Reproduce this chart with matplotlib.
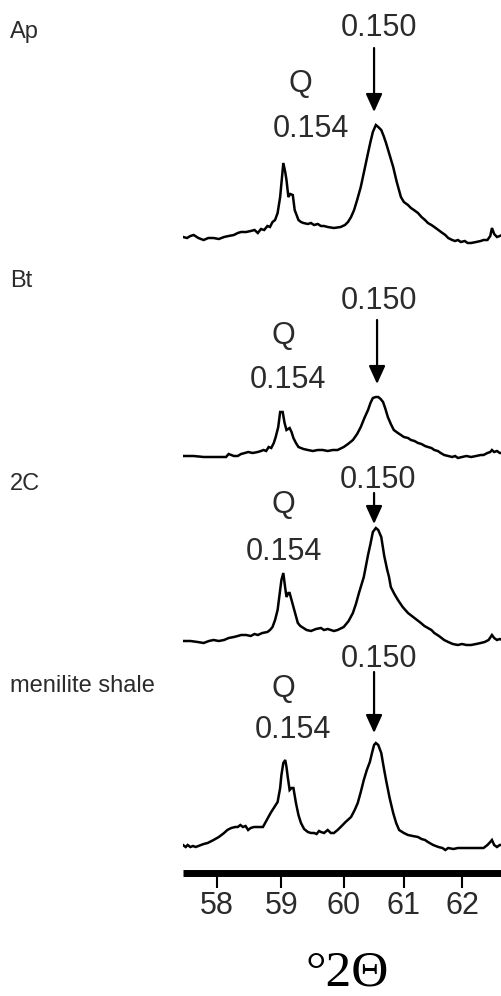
import numpy as np
import matplotlib
matplotlib.use('Agg')
import matplotlib.pyplot as plt

# XRD traces: 2-theta (deg) and intensity (arb. units)
ap_2theta = [57.49, 57.55, 57.60, 57.65, 57.72, 57.80, 57.87, 57.95, 58.03, 58.11, 58.18, 58.26, 58.32,
             58.37, 58.45, 58.52, 58.58, 58.63, 58.68, 58.73, 58.78, 58.82, 58.86, 58.90, 58.94, 58.98,
             59.03, 59.06, 59.08, 59.11, 59.14, 59.18, 59.21, 59.27, 59.31, 59.35, 59.42, 59.47, 59.52,
             59.58, 59.63, 59.68, 59.74, 59.84, 59.95, 60.02, 60.07, 60.12, 60.17, 60.22, 60.28, 60.34,
             60.40, 60.44, 60.48, 60.53, 60.57, 60.62, 60.66, 60.70, 60.76, 60.82, 60.88, 60.95, 61.00,
             61.07, 61.12, 61.17, 61.24, 61.30, 61.36, 61.41, 61.47, 61.52, 61.59, 61.66, 61.71, 61.76,
             61.83, 61.88, 61.93, 61.98, 62.05, 62.10, 62.16, 62.25, 62.33, 62.38, 62.45, 62.50, 62.53,
             62.57, 62.62, 62.67, 62.71]
ap_int = [13, 12, 14, 15, 12, 10, 12, 12, 11, 13, 14, 15, 17,
          18, 18, 19, 20, 17, 21, 20, 24, 23, 28, 30, 37, 53,
          87, 78, 70, 53, 56, 55, 40, 30, 28, 27, 26, 27, 25,
          26, 24, 24, 23, 22, 23, 25, 28, 33, 40, 50, 63, 80,
          97, 108, 118, 125, 123, 120, 114, 107, 95, 83, 68, 53, 48,
          45, 42, 40, 37, 33, 30, 27, 25, 23, 20, 17, 15, 12,
          10, 9, 10, 8, 9, 7, 7, 8, 9, 10, 10, 14, 22,
          16, 13, 14, 15]

bt_2theta = [57.49, 57.65, 57.80, 57.95, 58.14, 58.18, 58.22, 58.26, 58.32, 58.37, 58.43, 58.48, 58.55,
             58.63, 58.68, 58.72, 58.76, 58.80, 58.84, 58.88, 58.91, 58.95, 58.98, 59.02, 59.05, 59.08,
             59.13, 59.16, 59.19, 59.23, 59.27, 59.35, 59.42, 59.50, 59.58, 59.66, 59.74, 59.82, 59.90,
             60.00, 60.07, 60.15, 60.22, 60.28, 60.34, 60.40, 60.44, 60.48, 60.53, 60.57, 60.61, 60.65,
             60.69, 60.73, 60.78, 60.83, 60.90, 61.00, 61.07, 61.12, 61.18, 61.24, 61.30, 61.36, 61.41,
             61.47, 61.52, 61.58, 61.63, 61.69, 61.76, 61.83, 61.88, 61.93, 62.00, 62.08, 62.16, 62.25,
             62.33, 62.38, 62.45, 62.50, 62.53, 62.57, 62.62, 62.67, 62.71]
bt_int = [9, 9, 8, 8, 8, 11, 10, 9, 9, 11, 12, 13, 12,
          13, 14, 15, 14, 18, 17, 22, 28, 38, 53, 53, 42, 35,
          37, 33, 27, 22, 18, 16, 15, 14, 15, 15, 14, 15, 15,
          18, 21, 25, 31, 38, 47, 55, 62, 67, 68, 68, 66, 63,
          56, 48, 41, 35, 32, 28, 27, 25, 24, 22, 21, 19, 18,
          17, 15, 14, 12, 10, 9, 8, 9, 7, 8, 9, 8, 9,
          10, 10, 12, 13, 15, 13, 14, 12, 12]

c2_2theta = [57.49, 57.60, 57.71, 57.80, 57.88, 57.95, 58.03, 58.11, 58.18, 58.26, 58.32, 58.37, 58.45,
             58.52, 58.58, 58.63, 58.70, 58.78, 58.82, 58.86, 58.90, 58.94, 58.97, 59.00, 59.03, 59.06,
             59.08, 59.11, 59.13, 59.16, 59.19, 59.26, 59.30, 59.35, 59.40, 59.47, 59.55, 59.63, 59.68,
             59.74, 59.79, 59.84, 59.90, 60.00, 60.08, 60.15, 60.20, 60.25, 60.33, 60.40, 60.44, 60.48,
             60.53, 60.57, 60.62, 60.67, 60.72, 60.75, 60.78, 60.84, 60.90, 60.98, 61.07, 61.18, 61.29,
             61.35, 61.41, 61.47, 61.52, 61.60, 61.69, 61.76, 61.84, 61.93, 62.00, 62.08, 62.16, 62.25,
             62.33, 62.40, 62.47, 62.53, 62.57, 62.62, 62.67, 62.71]
c2_int = [9, 9, 8, 7, 9, 10, 9, 10, 12, 13, 14, 15, 15,
          14, 16, 15, 17, 18, 20, 23, 30, 40, 55, 70, 77, 62,
          53, 57, 57, 50, 43, 27, 24, 22, 20, 19, 21, 22, 20,
          21, 20, 19, 20, 23, 29, 37, 46, 57, 73, 95, 106, 118,
          122, 120, 113, 94, 80, 73, 63, 56, 50, 43, 37, 32, 27,
          24, 22, 20, 17, 14, 10, 8, 6, 5, 6, 5, 5, 6,
          7, 8, 10, 15, 12, 10, 11, 10]

ms_2theta = [57.49, 57.53, 57.56, 57.60, 57.64, 57.68, 57.72, 57.80, 57.86, 57.95, 58.03, 58.11, 58.16,
             58.22, 58.28, 58.32, 58.36, 58.40, 58.44, 58.48, 58.52, 58.57, 58.64, 58.71, 58.77, 58.83,
             58.89, 58.94, 58.98, 59.00, 59.03, 59.06, 59.08, 59.10, 59.13, 59.16, 59.19, 59.23, 59.27,
             59.31, 59.36, 59.42, 59.47, 59.52, 59.56, 59.60, 59.63, 59.68, 59.74, 59.79, 59.84, 59.90,
             59.95, 60.03, 60.12, 60.18, 60.23, 60.28, 60.33, 60.38, 60.43, 60.47, 60.50, 60.53, 60.57,
             60.62, 60.66, 60.70, 60.76, 60.82, 60.87, 60.92, 61.00, 61.07, 61.15, 61.24, 61.30, 61.36,
             61.41, 61.50, 61.59, 61.66, 61.71, 61.76, 61.85, 61.93, 62.05, 62.16, 62.27, 62.38, 62.45,
             62.50, 62.53, 62.57, 62.62, 62.67, 62.71]
ms_int = [15, 13, 15, 13, 14, 13, 14, 16, 17, 20, 23, 27, 30,
          32, 33, 33, 35, 33, 34, 30, 32, 33, 33, 33, 40, 47,
          53, 58, 72, 85, 97, 100, 93, 83, 70, 72, 72, 57, 45,
          37, 31, 28, 27, 27, 26, 29, 28, 27, 30, 27, 27, 30,
          33, 38, 43, 50, 57, 68, 80, 90, 98, 108, 115, 117, 115,
          107, 93, 80, 62, 47, 37, 30, 27, 25, 24, 23, 21, 20,
          18, 15, 13, 12, 10, 12, 11, 12, 12, 12, 12, 12, 15,
          18, 20, 15, 13, 15, 15]

samples = ['Ap', 'Bt', '2C', 'menilite shale']
peak_150 = [60.50, 60.55, 60.50, 60.50]   # arrow position, d = 0.150 nm
tick_vals = [58, 59, 60, 61, 62]

plt.rcParams['font.family'] = ['Liberation Sans', 'DejaVu Sans']
W, H = 502, 996
txt_col = '#2b2b2b'


# the 2-theta axis is linear in d-spacing (1/sin(theta))
def fwd(x):
    x = np.asarray(x, dtype=float)
    with np.errstate(divide='ignore', invalid='ignore'):
        return -1.0 / np.sin(np.radians(x / 2.0))


def inv(y):
    y = np.asarray(y, dtype=float)
    with np.errstate(divide='ignore', invalid='ignore'):
        return 2.0 * np.degrees(np.arcsin(np.clip(-1.0 / y, -1, 1)))


def fy(py):
    return 1 - py / H


fig = plt.figure(figsize=(W / 100, H / 100), dpi=100)

traces = [(ap_2theta, ap_int), (bt_2theta, bt_int), (c2_2theta, c2_int), (ms_2theta, ms_int)]
panel_bottom = [250, 465, 650, 860]
# layout (pixels from top): label, 0.150 text, Q, 0.154 text, arrow start/end
label_y = [38, 287, 490, 692]
t150 = [(379, 36), (379, 309), (378, 488), (379, 667)]
tq = [(300, 92), (283, 344), (283, 513), (283, 697)]
t154 = [(311, 137), (288, 388), (284, 560), (293, 738)]
arrows = [(48, 112), (320, 384), (493, 524), (672, 733)]

xl = (57.49, 62.71)
first = None
for i, (xs, ys) in enumerate(traces):
    ax = fig.add_axes([183 / W, fy(panel_bottom[i]), 319 / W, 140 / H], sharex=first)
    if first is None:
        first = ax
        ax.set_xscale('function', functions=(fwd, inv))
        ax.set_xlim(*xl)
    ax.plot(xs, ys, color='black', lw=1.8, solid_joinstyle='miter')
    ax.set_ylim(0, 140)
    ax.axis('off')

    fig.text(10 / W, fy(label_y[i]), samples[i], fontsize=17, color=txt_col, ha='left', va='baseline')
    fig.text(t150[i][0] / W, fy(t150[i][1]), '0.150', fontsize=22, color=txt_col, ha='center', va='baseline')
    fig.text(tq[i][0] / W, fy(tq[i][1]), 'Q', fontsize=22, color=txt_col, ha='center', va='baseline')
    fig.text(t154[i][0] / W, fy(t154[i][1]), '0.154', fontsize=22, color=txt_col, ha='center', va='baseline')

    ax.annotate('', xy=(peak_150[i], H - arrows[i][1]), xycoords=('data', 'figure pixels'),
                xytext=(peak_150[i], H - arrows[i][0]), textcoords=('data', 'figure pixels'),
                annotation_clip=False,
                arrowprops=dict(arrowstyle='-|>,head_length=1.1,head_width=0.5', lw=1.6,
                                color='black', shrinkA=0, shrinkB=0))

# thick scale bar with ticks
sax = fig.add_axes([183 / W, fy(873), 319 / W, 1 / H], sharex=first)
for s in ['top', 'left', 'right']:
    sax.spines[s].set_visible(False)
sax.spines['bottom'].set_linewidth(5)
sax.spines['bottom'].set_capstyle('butt')
sax.set_yticks([])
sax.set_xticks(tick_vals)
sax.set_xticklabels([str(v) for v in tick_vals])
sax.tick_params(axis='x', direction='out', length=11, width=1.5, labelsize=22, pad=2,
                labelcolor=txt_col)
sax.patch.set_visible(False)

fig.text(347 / W, fy(985), '°2Θ', fontsize=37, color='black', ha='center', va='baseline',
         family='Liberation Serif')

fig.savefig('out.png', dpi=100)
